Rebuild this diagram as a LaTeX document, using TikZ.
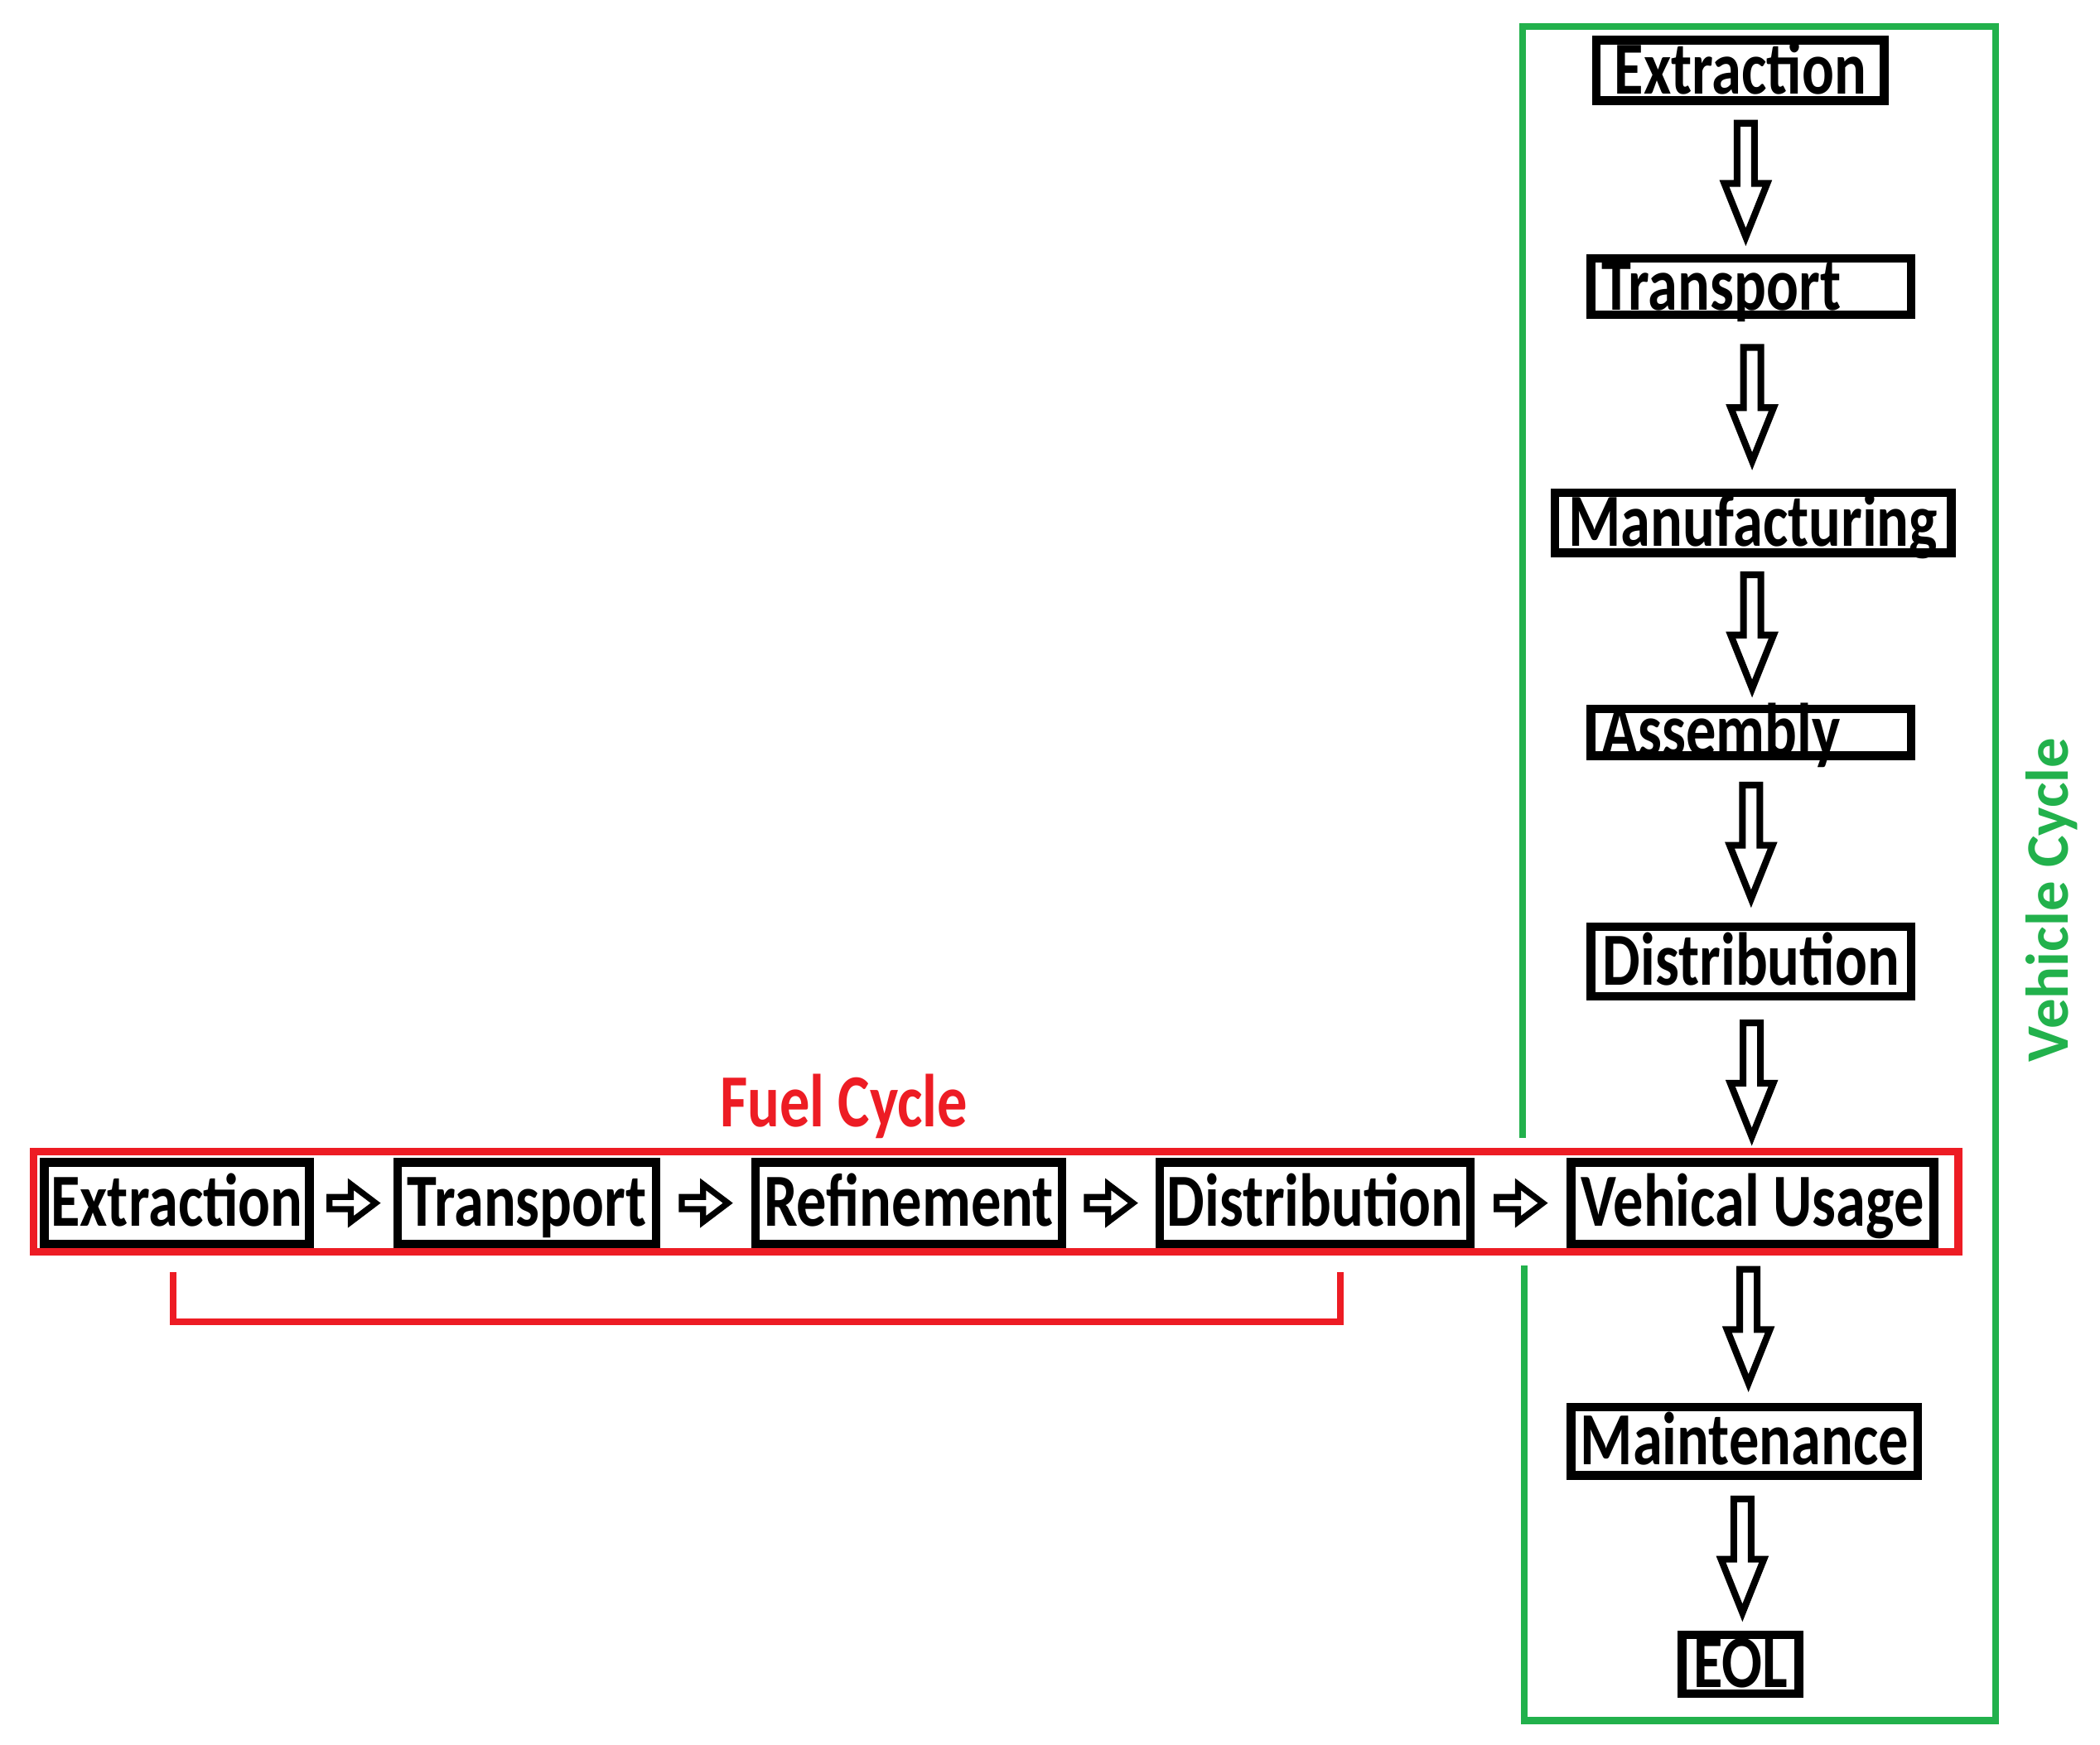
\documentclass[tikz,border=0pt]{standalone}
\usepackage{fontspec}
\setmainfont{Carlito}[FakeStretch=0.8]
\newfontfamily\sidefont{Carlito}
\usetikzlibrary{calc}

\definecolor{fuelred}{HTML}{ED1C24}
\definecolor{vehgreen}{HTML}{22B14C}

\tikzset{
  stage/.style={draw, line width=6.5pt, inner sep=0pt, text height=35pt, text depth=0pt,
    font=\fontsize{56}{60}\selectfont\bfseries},
  downblock/.pic={
    \draw[line width=5pt] (-6.5,-42) -- (6.5,-42) -- (6.5,3) -- (16,3) -- (0,43)
      -- (-16,3) -- (-6.5,3) -- cycle;},
  rightblock/.pic={
    \draw[line width=4.5pt] (-18,-4.5) -- (-2,-4.5) -- (-2,-14) -- (16.5,0)
      -- (-2,14) -- (-2,4.5) -- (-18,4.5) -- cycle;},
}

\begin{document}
\begin{tikzpicture}[x=1pt, y=-1pt]
\useasboundingbox (0,0) rectangle (1568,1303);

% Vehicle cycle frame
\draw[vehgreen, line width=5pt] (1137,850) -- (1137,20) -- (1490,20) -- (1490,1285) -- (1138,1285) -- (1138,945);
\node[vehgreen, rotate=90, font=\sidefont\fontsize{45}{50}\selectfont\bfseries] (vlabel) at (1532,672) {Vehicle Cycle};

% Vehicle cycle stages
\node[stage, minimum width=215pt, minimum height=45pt] (vext) at (1299.5,52.5) {Extraction};
\node[stage, minimum width=239pt, minimum height=42pt, text width=223pt, align=left, inner xsep=8pt] (vtra) at (1307.5,214) {Transport};
\node[stage, minimum width=296pt, minimum height=45pt] (vman) at (1309,390.5) {Manufacturing};
\node[stage, minimum width=239pt, minimum height=34pt, text width=223pt, align=left, inner xsep=8pt] (vass) at (1307.5,547) {Assembly};
\node[stage, minimum width=239pt, minimum height=52pt] (vdis) at (1307.5,718) {Distribution};
\node[stage, minimum width=259pt, minimum height=51pt] (vmai) at (1302.5,1076.5) {Maintenance};
\node[stage, minimum width=87pt, minimum height=44pt] (veol) at (1299.5,1243) {EOL};

% Fuel cycle frame
\draw[fuelred, line width=6pt] (25,860) rectangle (1462,935);
\node[fuelred, font=\fontsize{56}{60}\selectfont\bfseries] (flabel) at (630,826) {Fuel Cycle};

% Fuel cycle stages
\node[stage, minimum width=198pt, minimum height=61pt] (fext) at (132,898.5) {Extraction};
\node[stage, minimum width=193pt, minimum height=61pt] (ftra) at (393.5,898.5) {Transport};
\node[stage, minimum width=229pt, minimum height=61pt] (fref) at (678.5,898.5) {Refinement};
\node[stage, minimum width=232pt, minimum height=61pt] (fdis) at (982,898.5) {Distribution};
\node[stage, minimum width=271pt, minimum height=61pt] (use) at (1308.5,898.5) {Vehical Usage};

% Arrows down the vehicle column
\foreach \a/\b [count=\i] in {vext/vtra, vtra/vman, vman/vass, vass/vdis, vdis/use, use/vmai, vmai/veol}
  \pic (down\i) at ($(\a.south)!0.5!(\b.north)$) {downblock};

% Arrows along the fuel row
\foreach \a/\b [count=\i] in {fext/ftra, ftra/fref, fref/fdis, fdis/use}
  \pic (right\i) at ($(\a.east)!0.5!(\b.west)$) {rightblock};

% Bracket under the fuel stages
\coordinate (brl) at (129,950);
\coordinate (brr) at (1001,950);
\draw[fuelred, line width=5pt] (brl) -- ++(0,37) -| (brr);
\end{tikzpicture}
\end{document}
